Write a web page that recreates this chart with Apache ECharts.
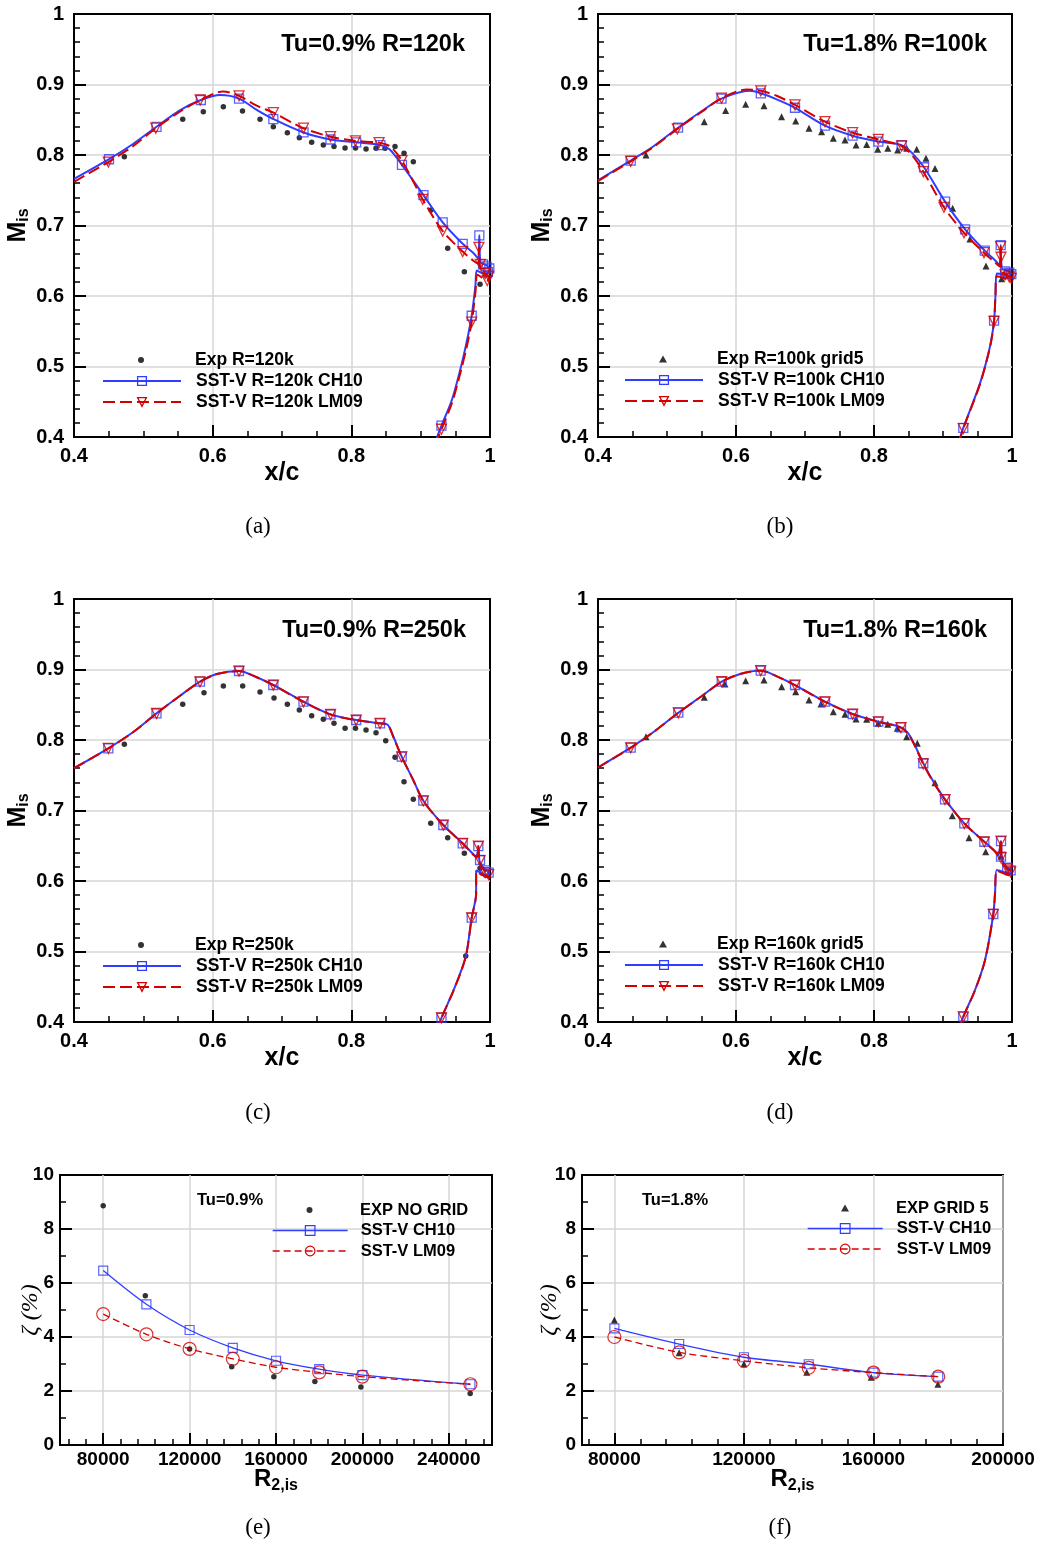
<!DOCTYPE html>
<html><head><meta charset="utf-8">
<script src="https://cdn.jsdelivr.net/npm/echarts@6/dist/echarts.min.js"></script>
<style>html,body{margin:0;padding:0;background:#fff}#c{width:1041px;height:1545px}</style>
</head><body><div id="c"></div>
<script>
// ---------------- DATA ----------------
// (a) Tu=0.9% R=120k
const aExp = [[0.4726,0.7976],[0.5568,0.8506],[0.5865,0.8615],[0.6154,0.8685],[0.643,0.8624],[0.6683,0.8506],[0.6875,0.840],[0.7077,0.8317],[0.725,0.8246],[0.7428,0.818],[0.7596,0.8142],[0.775,0.812],[0.7909,0.810],[0.806,0.810],[0.8212,0.8085],[0.8356,0.8095],[0.8486,0.8095],[0.863,0.812],[0.876,0.8024],[0.8894,0.7905],[0.915,0.722],[0.939,0.6676],[0.963,0.6345],[0.9856,0.6166]];
const aCH10 = [[0.4,0.766],[0.4505,0.794],[0.4856,0.816],[0.519,0.840],[0.552,0.863],[0.583,0.878],[0.611,0.885],[0.638,0.880],[0.6635,0.864],[0.6875,0.851],[0.731,0.832],[0.770,0.822],[0.807,0.818],[0.842,0.814],[0.855,0.808],[0.873,0.786],[0.904,0.743],[0.9318,0.7045],[0.9606,0.674],[0.976,0.661],[0.983,0.653],[0.9846,0.686],[0.986,0.648],[0.992,0.645],[0.998,0.641],[0.999,0.633],[0.99,0.632],[0.981,0.636],[0.979,0.615],[0.9736,0.572],[0.966,0.533],[0.957,0.495],[0.945,0.4525],[0.930,0.416],[0.923,0.398]];
const aCH10M = [[0.4505,0.794],[0.519,0.840],[0.583,0.878],[0.638,0.880],[0.6875,0.851],[0.731,0.832],[0.770,0.822],[0.807,0.818],[0.842,0.814],[0.873,0.786],[0.904,0.743],[0.9318,0.7045],[0.9606,0.674],[0.9846,0.686],[0.99,0.645],[0.995,0.642],[0.999,0.639],[0.997,0.634],[0.9736,0.572],[0.930,0.416]];
const aLM09 = [[0.4,0.762],[0.4495,0.790],[0.4856,0.813],[0.518,0.838],[0.552,0.861],[0.582,0.878],[0.615,0.890],[0.638,0.884],[0.6635,0.870],[0.6875,0.860],[0.731,0.838],[0.770,0.826],[0.806,0.820],[0.840,0.8175],[0.856,0.812],[0.873,0.792],[0.903,0.737],[0.9318,0.692],[0.9606,0.663],[0.976,0.650],[0.983,0.646],[0.984,0.669],[0.986,0.640],[0.992,0.632],[0.998,0.628],[0.997,0.622],[0.99,0.625],[0.982,0.63],[0.979,0.605],[0.9736,0.563],[0.966,0.526],[0.957,0.49],[0.945,0.448],[0.930,0.411],[0.924,0.396]];
const aLM09M = [[0.4495,0.790],[0.518,0.838],[0.582,0.878],[0.638,0.884],[0.6875,0.860],[0.731,0.838],[0.770,0.826],[0.806,0.820],[0.840,0.8175],[0.873,0.792],[0.903,0.737],[0.9318,0.692],[0.9606,0.663],[0.984,0.669],[0.986,0.645],[0.993,0.632],[0.998,0.628],[0.996,0.622],[0.9736,0.563],[0.930,0.411]];

// (b) Tu=1.8% R=100k
const bExp = [[0.4696,0.800],[0.554,0.8473],[0.585,0.863],[0.614,0.872],[0.6406,0.870],[0.666,0.8544],[0.6865,0.8482],[0.7058,0.8379],[0.724,0.833],[0.741,0.8237],[0.758,0.8213],[0.774,0.8142],[0.7894,0.815],[0.8054,0.808],[0.82,0.8095],[0.8343,0.807],[0.8474,0.8095],[0.8619,0.808],[0.8754,0.7953],[0.8884,0.781],[0.914,0.7243],[0.939,0.681],[0.9623,0.6426],[0.985,0.6244]];
const bCH10 = [[0.4,0.764],[0.4474,0.792],[0.48,0.812],[0.516,0.8387],[0.55,0.862],[0.579,0.880],[0.620,0.891],[0.636,0.8875],[0.659,0.879],[0.6855,0.867],[0.729,0.8416],[0.769,0.8274],[0.8063,0.819],[0.840,0.814],[0.855,0.803],[0.8725,0.7826],[0.903,0.7338],[0.932,0.6946],[0.9605,0.6643],[0.976,0.650],[0.982,0.644],[0.9836,0.6723],[0.985,0.640],[0.992,0.636],[0.998,0.634],[0.997,0.628],[0.99,0.630],[0.978,0.632],[0.976,0.60],[0.974,0.565],[0.968,0.528],[0.9536,0.476],[0.9294,0.413],[0.9246,0.398]];
const bCH10M = [[0.4474,0.792],[0.516,0.8387],[0.579,0.880],[0.636,0.8875],[0.6855,0.867],[0.729,0.8416],[0.769,0.8274],[0.8063,0.819],[0.840,0.814],[0.8725,0.7826],[0.903,0.7338],[0.932,0.6946],[0.9605,0.6643],[0.9836,0.6723],[0.99,0.635],[0.996,0.633],[0.999,0.631],[0.974,0.565],[0.9294,0.413]];
const bLM09 = [[0.4,0.763],[0.4474,0.791],[0.48,0.811],[0.515,0.837],[0.55,0.861],[0.579,0.8806],[0.6155,0.893],[0.636,0.891],[0.659,0.884],[0.6855,0.871],[0.729,0.8473],[0.769,0.8316],[0.8063,0.8222],[0.840,0.8128],[0.855,0.800],[0.8715,0.7763],[0.9014,0.7258],[0.9304,0.6898],[0.9594,0.6614],[0.975,0.648],[0.982,0.642],[0.9836,0.670],[0.985,0.636],[0.992,0.630],[0.998,0.627],[0.997,0.622],[0.99,0.625],[0.978,0.628],[0.976,0.60],[0.974,0.564],[0.968,0.527],[0.9536,0.475],[0.9294,0.412],[0.9246,0.397]];
const bLM09M = [[0.4474,0.791],[0.515,0.837],[0.579,0.8806],[0.636,0.891],[0.6855,0.871],[0.729,0.8473],[0.769,0.8316],[0.8063,0.8222],[0.840,0.8128],[0.8715,0.7763],[0.9014,0.7258],[0.9304,0.6898],[0.9594,0.6614],[0.9836,0.670],[0.984,0.655],[0.99,0.630],[0.996,0.627],[0.999,0.625],[0.974,0.564],[0.9294,0.412]];

// (c) Tu=0.9% R=250k
const cExp = [[0.4726,0.7939],[0.5568,0.8506],[0.5875,0.8671],[0.6154,0.8766],[0.6433,0.8766],[0.6683,0.8681],[0.6885,0.8596],[0.7077,0.8506],[0.725,0.8426],[0.7428,0.8345],[0.7596,0.8294],[0.775,0.8237],[0.791,0.8166],[0.806,0.8166],[0.8212,0.8142],[0.8356,0.8104],[0.8496,0.799],[0.863,0.7755],[0.876,0.7409],[0.8894,0.7159],[0.9145,0.6818],[0.939,0.6614],[0.963,0.6393],[0.9856,0.618],[0.965,0.4936]];
const cCH10 = [[0.4,0.760],[0.4495,0.7882],[0.485,0.811],[0.519,0.8378],[0.552,0.862],[0.5817,0.8827],[0.606,0.8935],[0.638,0.8979],[0.6635,0.889],[0.6875,0.878],[0.731,0.8543],[0.770,0.8364],[0.807,0.8284],[0.8414,0.8237],[0.852,0.822],[0.8606,0.805],[0.8727,0.7763],[0.8894,0.743],[0.9038,0.7139],[0.9327,0.6794],[0.9606,0.6535],[0.976,0.638],[0.9808,0.6345],[0.9832,0.6496],[0.985,0.628],[0.992,0.617],[0.998,0.613],[0.997,0.607],[0.99,0.61],[0.98,0.615],[0.98,0.5826],[0.9736,0.548],[0.9649,0.4926],[0.9476,0.4454],[0.930,0.406],[0.9255,0.393]];
const cCH10M = [[0.4495,0.7882],[0.519,0.8378],[0.5817,0.8827],[0.638,0.8979],[0.6875,0.878],[0.731,0.8543],[0.770,0.8364],[0.807,0.8284],[0.8414,0.8237],[0.8727,0.7763],[0.9038,0.7139],[0.9327,0.6794],[0.9606,0.6535],[0.9832,0.6496],[0.9856,0.6298],[0.993,0.615],[0.998,0.612],[0.9736,0.548],[0.930,0.406]];
const cLM09 = [[0.4,0.760],[0.4495,0.7880],[0.485,0.811],[0.519,0.8376],[0.552,0.862],[0.5817,0.8825],[0.606,0.8935],[0.638,0.8978],[0.6635,0.889],[0.6875,0.8778],[0.731,0.8541],[0.770,0.8362],[0.807,0.8282],[0.8414,0.8235],[0.852,0.822],[0.8606,0.804],[0.8727,0.7760],[0.8894,0.743],[0.9038,0.7137],[0.9327,0.6792],[0.9606,0.6533],[0.976,0.637],[0.9808,0.633],[0.9832,0.6494],[0.985,0.626],[0.992,0.615],[0.998,0.611],[0.997,0.605],[0.99,0.608],[0.98,0.613],[0.98,0.5820],[0.9736,0.5475],[0.9649,0.4920],[0.9476,0.4450],[0.930,0.4058],[0.9255,0.393]];
const cLM09M = [[0.4495,0.7880],[0.519,0.8376],[0.5817,0.8825],[0.638,0.8978],[0.6875,0.8778],[0.731,0.8541],[0.770,0.8362],[0.807,0.8282],[0.8414,0.8235],[0.8727,0.7760],[0.9038,0.7137],[0.9327,0.6792],[0.9606,0.6533],[0.9832,0.6494],[0.9856,0.6290],[0.993,0.612],[0.998,0.609],[0.9736,0.5475],[0.930,0.4058]];

// (d) Tu=1.8% R=160k
const dExp = [[0.4696,0.8047],[0.554,0.8606],[0.584,0.8794],[0.614,0.8841],[0.6406,0.8851],[0.6662,0.8756],[0.6865,0.8685],[0.7058,0.8567],[0.7232,0.8511],[0.741,0.8401],[0.758,0.8364],[0.7739,0.8298],[0.7894,0.8294],[0.8062,0.8237],[0.8199,0.8223],[0.8338,0.8166],[0.8474,0.8047],[0.8628,0.7953],[0.8884,0.7394],[0.9135,0.6926],[0.9377,0.6614],[0.9619,0.6416],[0.984,0.635]];
const dCH10 = [[0.4,0.761],[0.4474,0.7891],[0.48,0.811],[0.5164,0.8387],[0.55,0.862],[0.5793,0.8827],[0.606,0.8935],[0.6358,0.8985],[0.66,0.890],[0.6855,0.878],[0.729,0.8543],[0.7691,0.8369],[0.8062,0.826],[0.8391,0.818],[0.852,0.806],[0.8714,0.767],[0.886,0.741],[0.9029,0.7159],[0.9309,0.6818],[0.9599,0.6557],[0.976,0.642],[0.980,0.636],[0.9841,0.6567],[0.985,0.632],[0.992,0.620],[0.998,0.616],[0.997,0.610],[0.99,0.612],[0.978,0.6156],[0.9754,0.5826],[0.9729,0.5532],[0.9609,0.488],[0.9464,0.4454],[0.9294,0.4075],[0.9246,0.393]];
const dCH10M = [[0.4474,0.7891],[0.5164,0.8387],[0.5793,0.8827],[0.6358,0.8985],[0.6855,0.878],[0.729,0.8543],[0.7691,0.8369],[0.8062,0.826],[0.8391,0.818],[0.8714,0.767],[0.9029,0.7159],[0.9309,0.6818],[0.9599,0.6557],[0.9841,0.6567],[0.9841,0.6345],[0.993,0.619],[0.998,0.615],[0.9729,0.5532],[0.9294,0.4075]];
const dLM09 = [[0.4,0.761],[0.4474,0.7889],[0.48,0.811],[0.5164,0.8385],[0.55,0.862],[0.5793,0.8826],[0.606,0.8935],[0.6358,0.8984],[0.66,0.890],[0.6855,0.8778],[0.729,0.8541],[0.7691,0.8367],[0.8062,0.8258],[0.8391,0.8175],[0.852,0.805],[0.8714,0.766],[0.886,0.740],[0.9029,0.7155],[0.9309,0.6815],[0.9599,0.6555],[0.976,0.641],[0.980,0.635],[0.9841,0.6565],[0.985,0.630],[0.992,0.618],[0.998,0.614],[0.997,0.608],[0.99,0.610],[0.978,0.6145],[0.9754,0.5820],[0.9729,0.5527],[0.9609,0.4875],[0.9464,0.4450],[0.9294,0.4072],[0.9246,0.393]];
const dLM09M = [[0.4474,0.7889],[0.5164,0.8385],[0.5793,0.8826],[0.6358,0.8984],[0.6855,0.8778],[0.729,0.8541],[0.7691,0.8367],[0.8062,0.8258],[0.8391,0.8175],[0.8714,0.766],[0.9029,0.7155],[0.9309,0.6815],[0.9599,0.6555],[0.9841,0.6565],[0.9841,0.633],[0.993,0.617],[0.998,0.613],[0.9729,0.5527],[0.9294,0.4072]];

// (e) Tu=0.9%  loss vs R2,is
const eExp  = [[80000,8.86],[99500,5.53],[120000,3.56],[139500,2.90],[159000,2.53],[178000,2.35],[199300,2.15],[249900,1.91]];
const eCH10 = [[80000,6.46],[100000,5.21],[120000,4.26],[140000,3.60],[160000,3.12],[180000,2.81],[200000,2.59],[250000,2.25]];
const eLM09 = [[80000,4.85],[100000,4.10],[120000,3.56],[140000,3.19],[160000,2.88],[180000,2.69],[200000,2.53],[250000,2.25]];
// (f) Tu=1.8%
const fExp  = [[80000,4.63],[100000,3.42],[120000,3.00],[139400,2.69],[159300,2.51],[179900,2.25]];
const fCH10 = [[80000,4.32],[100000,3.74],[120000,3.25],[140000,2.99],[160000,2.68],[180000,2.53]];
const fLM09 = [[80000,4.00],[100000,3.43],[120000,3.12],[140000,2.86],[160000,2.68],[180000,2.53]];

// tick labels
const eMajorTicks = [80000,120000,160000,200000,240000];
const fMajorTicks = [80000,120000,160000,200000];

// ---------------- STYLE ----------------
const BLUE = '#2f3dff', RED = '#d40000', GRIDC = '#d6d6d6';
const SANS = '"Liberation Sans", Arial, Helvetica, sans-serif';
const SERIF = '"Liberation Serif", "DejaVu Serif", serif';
const NONE = 'rgba(0,0,0,0)';

function minorList(lo, hi, step, major) {
  const out = [];
  for (let v = lo; v <= hi + 1e-9; v += step) if (v % major !== 0) out.push(v);
  return out;
}

const axisLineS = {show:true, onZero:false, lineStyle:{color:'#000', width:2}};
const tickS = {show:true, inside:true, length:12, lineStyle:{color:'#000', width:2}};
const labelS = (size, margin) => ({color:'#000', fontSize:size, fontWeight:'bold', fontFamily:SANS, margin:margin});
const splitS = {show:true, showMinLine:false, showMaxLine:false, lineStyle:{color:GRIDC, width:1.5}};

// expX: centre of exp legend symbol, textX: start of legend texts
const panels = [
  {grid:{left:74, top:14, width:416, height:423}, exp:aExp, expName:'Exp R=120k', expSym:'circle',
   ch:aCH10, chM:aCH10M, chName:'SST-V R=120k CH10', lm:aLM09, lmM:aLM09M, lmName:'SST-V R=120k LM09',
   legLeft:102, legTop:351, expX:141, textX:195, title:'Tu=0.9% R=120k', titleRight:576, titleTop:33},
  {grid:{left:598, top:14, width:414, height:423}, exp:bExp, expName:'Exp R=100k grid5', expSym:'triangle',
   ch:bCH10, chM:bCH10M, chName:'SST-V R=100k CH10', lm:bLM09, lmM:bLM09M, lmName:'SST-V R=100k LM09',
   legLeft:624, legTop:350, expX:663, textX:717, title:'Tu=1.8% R=100k', titleRight:54, titleTop:33},
  {grid:{left:74, top:599, width:416, height:423}, exp:cExp, expName:'Exp R=250k', expSym:'circle',
   ch:cCH10, chM:cCH10M, chName:'SST-V R=250k CH10', lm:cLM09, lmM:cLM09M, lmName:'SST-V R=250k LM09',
   legLeft:102, legTop:936, expX:141, textX:195, title:'Tu=0.9% R=250k', titleRight:575, titleTop:619},
  {grid:{left:598, top:599, width:414, height:423}, exp:dExp, expName:'Exp R=160k grid5', expSym:'triangle',
   ch:dCH10, chM:dCH10M, chName:'SST-V R=160k CH10', lm:dLM09, lmM:dLM09M, lmName:'SST-V R=160k LM09',
   legLeft:624, legTop:935, expX:663, textX:717, title:'Tu=1.8% R=160k', titleRight:54, titleTop:619}
];

const grids = [], xAxes = [], yAxes = [], series = [], legends = [], titles = [];

function expLegend(p, fontSize, top) {
  const isCircle = p.expSym === 'circle';
  const w = isCircle ? 6 : 8;
  const left = p.expX - w / 2;
  return {data:[p.expName], left:left, top:top, orient:'vertical', padding:0,
    itemWidth:w, itemHeight:isCircle ? 6 : 7, selectedMode:false,
    textStyle:{color:'#000', fontSize:fontSize, fontWeight:'bold', fontFamily:SANS, lineHeight:18,
      padding:[0,0,0, p.textX - left - w - 5]}};
}

panels.forEach((p, i) => {
  grids.push(Object.assign({show:true, borderColor:'#000', borderWidth:2, backgroundColor:'#fff'}, p.grid));
  xAxes.push({type:'value', gridIndex:i, min:0.4, max:1, interval:0.2, position:'bottom',
    name:'x/c', nameLocation:'middle', nameGap:24, nameMoveOverlap:false,
    nameTextStyle:{fontSize:25, fontWeight:'bold', color:'#000', fontFamily:SANS},
    axisLine:axisLineS, axisTick:tickS,
    minorTick:{show:true, splitNumber:4, length:6, lineStyle:{color:'#000', width:1.5}},
    axisLabel:labelS(20, 9), splitLine:splitS});
  yAxes.push({type:'value', gridIndex:i, min:0.4, max:1, interval:0.1, position:'left',
    name:'{m|M}{s|is}', nameLocation:'middle', nameGap:42, nameMoveOverlap:false,
    nameTextStyle:{color:'#000', rich:{
      m:{fontSize:25, fontWeight:'bold', fontFamily:SANS, color:'#000'},
      s:{fontSize:16, fontWeight:'bold', fontFamily:SANS, color:'#000', padding:[12,0,0,0]}}},
    axisLine:axisLineS, axisTick:tickS,
    minorTick:{show:true, splitNumber:5, length:6, lineStyle:{color:'#000', width:1.5}},
    axisLabel:labelS(20, 10), splitLine:splitS});
  const isCircle = p.expSym === 'circle';
  series.push({type:'scatter', name:p.expName, xAxisIndex:i, yAxisIndex:i, data:p.exp,
    symbol:p.expSym, symbolSize:isCircle ? 5.5 : 7, itemStyle:{color:'#000'}, z:2, silent:true});
  series.push({type:'line', name:p.chName, xAxisIndex:i, yAxisIndex:i, data:p.ch, smooth:0.3,
    showSymbol:false, symbol:'rect', symbolSize:9, lineStyle:{color:BLUE, width:2},
    itemStyle:{color:BLUE}, z:3, silent:true});
  series.push({type:'scatter', xAxisIndex:i, yAxisIndex:i, data:p.chM, symbol:'rect', symbolSize:9,
    itemStyle:{color:NONE, borderColor:BLUE, borderWidth:1.3}, z:4, silent:true});
  series.push({type:'line', name:p.lmName, xAxisIndex:i, yAxisIndex:i, data:p.lm, smooth:0.3,
    showSymbol:false, symbol:'triangle', symbolRotate:180, symbolSize:10,
    lineStyle:{color:RED, width:2, type:[12,5]}, itemStyle:{color:RED}, z:5, silent:true});
  series.push({type:'scatter', xAxisIndex:i, yAxisIndex:i, data:p.lmM, symbol:'triangle', symbolRotate:180,
    symbolSize:10, itemStyle:{color:NONE, borderColor:RED, borderWidth:1.3}, z:6, silent:true});

  legends.push(expLegend(p, 17.5, p.legTop));
  legends.push({data:[
      {name:p.chName, itemStyle:{color:NONE, borderColor:BLUE, borderWidth:1.3}, lineStyle:{color:BLUE, width:2, type:'solid'}},
      {name:p.lmName, itemStyle:{color:NONE, borderColor:RED, borderWidth:1.3}, lineStyle:{color:RED, width:2, type:[12,5]}}],
    left:p.legLeft, top:p.legTop + 21, orient:'vertical', padding:0, itemGap:3,
    itemWidth:78, itemHeight:11, selectedMode:false,
    textStyle:{color:'#000', fontSize:17.5, fontWeight:'bold', fontFamily:SANS, lineHeight:18,
      padding:[0,0,0, p.textX - p.legLeft - 78 - 5]}});
  titles.push({text:p.title, right:p.titleRight, top:p.titleTop, padding:0,
    textStyle:{color:'#000', fontSize:23.5, fontWeight:'bold', fontFamily:SANS}});
});

// (e) and (f)
const zPanels = [
  {grid:{left:60, top:1175, width:432, height:270}, min:60000, max:260000, major:eMajorTicks,
   minor:minorList(64000, 256000, 8000, 40000), exp:eExp, expName:'EXP NO GRID', expSym:'circle',
   ch:eCH10, lm:eLM09, legLeft:272, legTop:1201, expX:309.5, textX:360, title:'Tu=0.9%', titleLeft:197, nameGap:17},
  {grid:{left:582, top:1175, width:421, height:270}, min:70000, max:200000, major:fMajorTicks,
   minor:minorList(72000, 192000, 8000, 40000), exp:fExp, expName:'EXP GRID 5', expSym:'triangle',
   ch:fCH10, lm:fLM09, legLeft:807, legTop:1199, expX:845, textX:896, title:'Tu=1.8%', titleLeft:642, nameGap:20}
];

zPanels.forEach((p, k) => {
  const gi = 4 + k;
  grids.push(Object.assign({show:true, borderColor:'#000', borderWidth:2, backgroundColor:'#fff'}, p.grid));
  const xi = xAxes.length;
  xAxes.push({type:'value', gridIndex:gi, min:p.min, max:p.max, position:'bottom',
    name:'{m|R}{s|2,is}', nameLocation:'middle', nameGap:19, nameMoveOverlap:false,
    nameTextStyle:{color:'#000', rich:{
      m:{fontSize:24, fontWeight:'bold', fontFamily:SANS, color:'#000'},
      s:{fontSize:16, fontWeight:'bold', fontFamily:SANS, color:'#000', padding:[14,0,0,0]}}},
    axisLine:axisLineS, axisTick:Object.assign({}, tickS, {customValues:p.major}),
    axisLabel:Object.assign(labelS(19, 5), {customValues:p.major, formatter:(v) => String(Math.round(v))}),
    splitLine:{show:true, lineStyle:{color:GRIDC, width:1.5}}});
  xAxes.push({type:'value', gridIndex:gi, min:p.min, max:p.max, position:'bottom',
    axisLine:{show:false}, axisLabel:{show:false}, splitLine:{show:false},
    axisTick:{show:true, inside:true, length:6, customValues:p.minor, lineStyle:{color:'#000', width:1.5}}});
  yAxes.push({type:'value', gridIndex:gi, min:0, max:10, interval:2, position:'left',
    name:'ζ (%)', nameLocation:'middle', nameGap:p.nameGap, nameMoveOverlap:false,
    nameTextStyle:{color:'#000', fontSize:24, fontStyle:'italic', fontFamily:SERIF},
    axisLine:axisLineS, axisTick:tickS,
    minorTick:{show:true, splitNumber:2, length:6, lineStyle:{color:'#000', width:1.5}},
    axisLabel:labelS(19, 6), splitLine:splitS});
  const isCircle = p.expSym === 'circle';
  series.push({type:'scatter', name:p.expName, xAxisIndex:xi, yAxisIndex:gi, data:p.exp,
    symbol:p.expSym, symbolSize:isCircle ? 5.5 : 7, itemStyle:{color:'#000'}, z:2, silent:true});
  series.push({type:'line', name:'SST-V CH10', xAxisIndex:xi, yAxisIndex:gi, data:p.ch, smooth:0.3,
    showSymbol:false, symbol:'rect', lineStyle:{color:BLUE, width:1.3}, itemStyle:{color:BLUE}, z:3, silent:true});
  series.push({type:'scatter', xAxisIndex:xi, yAxisIndex:gi, data:p.ch, symbol:'rect', symbolSize:9,
    itemStyle:{color:NONE, borderColor:BLUE, borderWidth:1.2}, z:4, silent:true});
  series.push({type:'line', name:'SST-V LM09', xAxisIndex:xi, yAxisIndex:gi, data:p.lm, smooth:0.3,
    showSymbol:false, symbol:'circle', lineStyle:{color:RED, width:1.3, type:[7,4]}, itemStyle:{color:RED}, z:5, silent:true});
  series.push({type:'scatter', xAxisIndex:xi, yAxisIndex:gi, data:p.lm, symbol:'circle', symbolSize:13,
    itemStyle:{color:NONE, borderColor:RED, borderWidth:1.2}, z:6, silent:true});

  legends.push(expLegend(p, 16.5, p.legTop));
  legends.push({data:[
      {name:'SST-V CH10', itemStyle:{color:NONE, borderColor:BLUE, borderWidth:1.2}, lineStyle:{color:BLUE, width:1.3, type:'solid'}},
      {name:'SST-V LM09', itemStyle:{color:NONE, borderColor:RED, borderWidth:1.2}, lineStyle:{color:RED, width:1.3, type:[7,4]}}],
    left:p.legLeft, top:p.legTop + 20.5, orient:'vertical', padding:0, itemGap:2.5,
    itemWidth:75, itemHeight:12, selectedMode:false,
    textStyle:{color:'#000', fontSize:16.5, fontWeight:'bold', fontFamily:SANS, lineHeight:18,
      padding:[0,0,0, p.textX - p.legLeft - 75 - 5]}});
  titles.push({text:p.title, left:p.titleLeft, top:1192, padding:0,
    textStyle:{color:'#000', fontSize:16.5, fontWeight:'bold', fontFamily:SANS}});
});

const panelLabels = [['(a)',258,527],['(b)',780,527],['(c)',258,1113],['(d)',780,1113],['(e)',258,1528],['(f)',780,1528]];
const graphic = panelLabels.map(l => ({type:'text', x:l[1], y:l[2], silent:true,
  style:{text:l[0], align:'center', verticalAlign:'middle', fontSize:23, fontFamily:SERIF, fill:'#000'}}));

const chart = echarts.init(document.getElementById('c'), null, {renderer:'canvas'});
chart.setOption({
  backgroundColor:'#fff', animation:false,
  title:titles, grid:grids, xAxis:xAxes, yAxis:yAxes, legend:legends, series:series, graphic:graphic
});
</script></body></html>
